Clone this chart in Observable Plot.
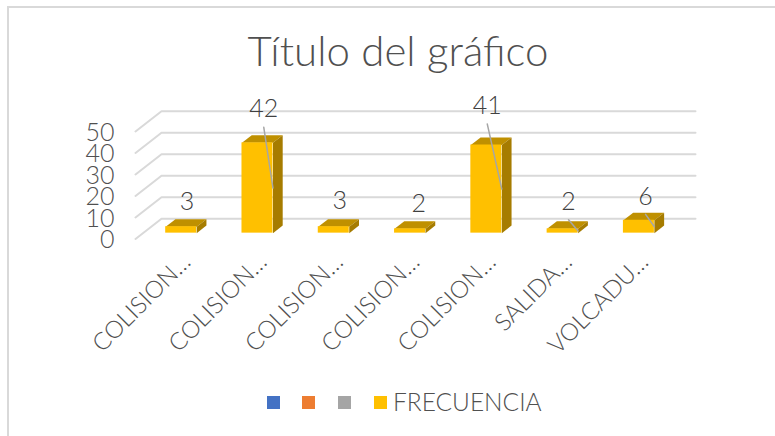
<!DOCTYPE html>
<html lang="es"><head><meta charset="utf-8">
<script src="https://cdn.jsdelivr.net/npm/d3@7"></script>
<script src="https://cdn.jsdelivr.net/npm/@observablehq/plot@0.6"></script>
<style>
html,body{margin:0;padding:0;background:#fff;overflow:hidden;width:775px;height:436px}
body{position:relative;font-family:Lato,sans-serif;color:#505050}
#frame{position:absolute;left:7px;top:6px;right:-4px;bottom:-4px;border-top:2px solid #d9d9d9;border-left:2px solid #d9d9d9;pointer-events:none}
#title{height:92px;box-sizing:border-box;padding-top:27px;text-align:center;font-size:42px;line-height:46px;padding-left:21px;font-weight:300}
#chart{height:290px}
#chart svg{display:block}
#legend{position:relative;height:54px;font-size:24.5px;font-weight:300}
.k{position:absolute;top:14px;width:13px;height:13px}
.t{position:absolute;left:393px;top:6px;line-height:27px}
</style></head><body>
<div id="frame"></div>
<div id="title">Título del gráfico</div>
<div id="chart"></div>
<div id="legend">
<span class="k" style="left:267px;background:#4472C4"></span>
<span class="k" style="left:302px;background:#ED7D31"></span>
<span class="k" style="left:338px;background:#A5A5A5"></span>
<span class="k" style="left:374px;background:#FFC000"></span>
<span class="t">FRECUENCIA</span>
</div>
<script>
const categories = ["COLISION…","COLISION…","COLISION…","COLISION…","COLISION…","SALIDA…","VOLCADU…"];
const frecuencia = [3,42,3,2,41,2,6];
const yTicks = [0,10,20,30,40,50];
// label placement relative to each bar, in category units and value units
const labelShiftX = [-0.05,-0.045,-0.05,-0.015,-0.115,-0.05,-0.04];
const labelLift = [8,12,8.5,8,14.5,9,7.5];
const leader = [false,true,false,false,true,true,true];

// oblique projection: one unit of depth in data units
const depthX = 26/76.3, depthY = 20/2.13;
const halfW = 0.203, d0 = 0.29, d1 = 0.665;
const X = (i,d) => i + d*depthX, Y = (v,d) => v + d*depthY;
const bars = frecuencia.map((v,i)=>({i,v}));

const grid = yTicks.flatMap(t=>[[-0.5,0],[-0.5,1],[6.5,1]].map(([x,d])=>({t,x:X(x,d),y:Y(t,d)})));
const topFaces = bars.flatMap(({i,v})=>[[-1,d0],[1,d0],[1,d1],[-1,d1]].map(([s,d])=>({i,x:X(i+s*halfW,d),y:Y(v,d)})));
const sideFaces = bars.flatMap(({i,v})=>[[0,d0],[v,d0],[v,d1],[0,d1]].map(([h,d])=>({i,x:X(i+halfW,d),y:Y(h,d)})));
const labels = bars.map(({i,v})=>({i,v,x:X(i+labelShiftX[i],d1),y:Y(v,d1)+labelLift[i]}));
const leaders = labels.filter(l=>leader[l.i]).flatMap(l=>[
  {i:l.i,x:l.x,y:l.y-8.3},
  {i:l.i,x:X(l.i+halfW,d0),y:Y(l.v/2,d0)}
]);

const plot = Plot.plot({
  width:775,height:290,
  marginLeft:135,marginRight:106,marginTop:39,marginBottom:143.5,
  x:{type:"linear",domain:[-0.5,6.5],axis:null},
  y:{type:"linear",domain:[0,50],axis:null},
  style:{fontFamily:"Lato,sans-serif",fontSize:"25px",fontWeight:300,color:"#505050",background:"transparent",overflow:"visible"},
  marks:[
    Plot.line(grid,{x:"x",y:"y",z:"t",stroke:"#d9d9d9",strokeWidth:2,curve:"linear"}),
    Plot.axisY({ticks:yTicks,tickSize:0,tickPadding:21,label:null,dy:1,fill:"#505050"}),
    Plot.line(topFaces,{x:"x",y:"y",z:"i",fill:"#BF9000",stroke:"none"}),
    Plot.line(sideFaces,{x:"x",y:"y",z:"i",fill:"#A67C00",stroke:"none"}),
    Plot.rect(bars,{x1:d=>X(d.i-halfW,d0),x2:d=>X(d.i+halfW,d0),y1:d=>Y(0,d0),y2:d=>Y(d.v,d0),fill:"#FFC000"}),
    Plot.line(leaders,{x:"x",y:"y",z:"i",stroke:"#a6a6a6",strokeWidth:1.5}),
    Plot.text(labels,{x:"x",y:"y",text:"v",fontSize:25,fill:"#404040"}),
    Plot.text(bars,{x:"i",y:()=>0,text:d=>categories[d.i],rotate:-45,textAnchor:"end",dx:13,dy:19,fontSize:24,fill:"#505050"})
  ]
});
document.getElementById("chart").append(plot);
</script>
</body></html>
